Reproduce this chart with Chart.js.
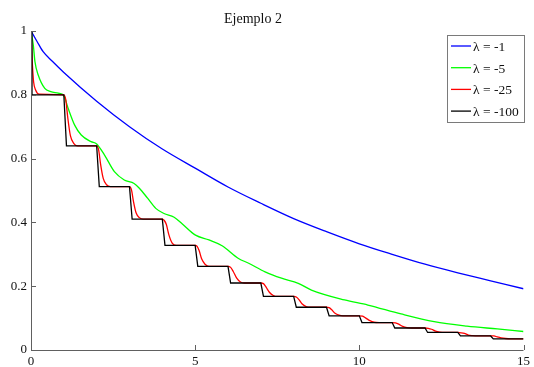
<!DOCTYPE html>
<html>
<head>
<meta charset="utf-8">
<script src="https://cdn.jsdelivr.net/npm/chart.js@4.4.0/dist/chart.umd.min.js"></script>
<style>
  html, body { margin: 0; padding: 0; background: #fff; }
</style>
</head>
<body>
<canvas id="chart" width="534" height="367"></canvas>
<script>
// Ejemplo 2: y' = lambda * (y - target), target stepping down at each integer t
const titleText = 'Ejemplo 2';
const seriesLabels = ['λ = -1', 'λ = -5', 'λ = -25', 'λ = -100'];
const seriesColors = ['#0000ff', '#00ff00', '#ff0000', '#000000'];
const xTicks = [0, 5, 10, 15];
const yTicks = [0, 0.2, 0.4, 0.6, 0.8, 1];
const yTickLabels = ['0', '0.2', '0.4', '0.6', '0.8', '1'];

// lambda = -1
const blueX = [0, 0.18, 0.37, 0.65, 1, 2, 3, 4, 5, 6, 7, 8, 9, 10, 11, 12, 13, 14, 15];
const blueY = [1.0, 0.968, 0.935, 0.905, 0.87, 0.78, 0.70, 0.63, 0.57, 0.511, 0.46, 0.412, 0.371, 0.333, 0.30, 0.269, 0.242, 0.217, 0.192];

// lambda = -5
const greenX = [0, 0.07, 0.12, 0.22, 0.42, 0.6, 0.83, 1.0, 1.13, 1.33, 1.53, 1.83, 2.0, 2.24, 2.54, 2.84, 3.14, 3.3, 3.55, 3.8,
                4.05, 4.36, 4.61, 5.01, 5.42, 5.82, 6.32, 6.63, 7.13, 7.63, 8.14, 8.54, 9.55, 10.26, 11.27, 12.28, 13.28, 14.2, 15];
const greenY = [1.0, 0.956, 0.904, 0.862, 0.82, 0.81, 0.805, 0.797, 0.758, 0.705, 0.674, 0.653, 0.646, 0.611, 0.559, 0.533, 0.522, 0.507, 0.476, 0.444,
                0.428, 0.416, 0.395, 0.36, 0.345, 0.327, 0.287, 0.272, 0.245, 0.225, 0.209, 0.188, 0.157, 0.141, 0.113, 0.089, 0.075, 0.066, 0.058];

// lambda = -25
const redX = [0, 0.04, 0.08, 0.14, 0.25,
  1.0, 1.06, 1.12, 1.2, 1.3, 1.42,
  2.0, 2.06, 2.12, 2.2, 2.3, 2.42,
  3.0, 3.06, 3.12, 3.2, 3.3, 3.42,
  4.0, 4.06, 4.12, 4.2, 4.3, 4.42,
  5.0, 5.06, 5.12, 5.2, 5.3, 5.42,
  6.0, 6.08, 6.16, 6.26, 6.38, 6.5,
  7.0, 7.08, 7.16, 7.26, 7.38, 7.5,
  8.0, 8.08, 8.16, 8.26, 8.38, 8.5,
  9.0, 9.08, 9.16, 9.26, 9.38, 9.5,
  10.0, 10.1, 10.2, 10.32, 10.45, 10.6,
  11.0, 11.1, 11.2, 11.32, 11.45, 11.6,
  12.0, 12.1, 12.2, 12.32, 12.45, 12.6,
  13.0, 13.1, 13.2, 13.32, 13.45, 13.6,
  14.0, 14.1, 14.2, 14.32, 14.45, 14.6,
  15];
const redY = [1.0, 0.9, 0.84, 0.815, 0.802,
  0.8, 0.784, 0.728, 0.672, 0.648, 0.64,
  0.64, 0.627, 0.582, 0.538, 0.518, 0.512,
  0.512, 0.502, 0.466, 0.43, 0.415, 0.41,
  0.41, 0.406, 0.394, 0.361, 0.335, 0.328,
  0.328, 0.325, 0.312, 0.285, 0.269, 0.262,
  0.262, 0.259, 0.246, 0.226, 0.213, 0.21,
  0.21, 0.208, 0.197, 0.181, 0.171, 0.168,
  0.168, 0.166, 0.158, 0.144, 0.136, 0.134,
  0.134, 0.133, 0.126, 0.115, 0.109, 0.107,
  0.107, 0.106, 0.1, 0.092, 0.087, 0.086,
  0.086, 0.085, 0.081, 0.074, 0.07, 0.069,
  0.069, 0.068, 0.065, 0.059, 0.056, 0.055,
  0.055, 0.054, 0.052, 0.047, 0.045, 0.044,
  0.044, 0.044, 0.041, 0.038, 0.036, 0.035,
  0.035];

// lambda = -100
const blackX = [0, 0.03, 1, 1.08, 2, 2.08, 3, 3.08, 4, 4.08, 5, 5.08, 6, 6.08, 7, 7.08,
                8, 8.08, 9, 9.08, 10, 10.08, 11, 11.08, 12, 12.08, 13, 13.08, 14, 14.08, 15];
const blackY = [1, 0.8, 0.8, 0.64, 0.64, 0.512, 0.512, 0.41, 0.41, 0.328, 0.328, 0.262, 0.262, 0.21, 0.21, 0.168,
                0.168, 0.134, 0.134, 0.107, 0.107, 0.086, 0.086, 0.069, 0.069, 0.055, 0.055, 0.044, 0.044, 0.035, 0.035];

const FONT = "'Liberation Serif', 'Times New Roman', serif";
const AXIS_COLOR = '#606060';

function points(xs, ys) {
  return xs.map((x, i) => ({ x: x, y: ys[i] }));
}

function makeSet(i, xs, ys, smooth) {
  return {
    label: seriesLabels[i],
    data: points(xs, ys),
    borderColor: seriesColors[i],
    backgroundColor: seriesColors[i],
    borderWidth: 1.3,
    pointRadius: 0,
    fill: false,
    tension: 0,
    cubicInterpolationMode: smooth ? 'monotone' : 'default',
    order: 4 - i   // later series are drawn on top
  };
}

// axis lines with inward tick marks, left and bottom only
const axesPlugin = {
  id: 'axesLines',
  afterDatasetsDraw(chart) {
    const ctx = chart.ctx;
    const a = chart.chartArea;
    const xs = chart.scales.x, ys = chart.scales.y;
    ctx.save();
    ctx.strokeStyle = AXIS_COLOR;
    ctx.lineWidth = 1;
    ctx.beginPath();
    ctx.moveTo(a.left + 0.5, a.top);
    ctx.lineTo(a.left + 0.5, a.bottom + 0.5);
    ctx.lineTo(a.right, a.bottom + 0.5);
    xTicks.forEach(v => {
      const px = Math.round(xs.getPixelForValue(v)) + 0.5;
      ctx.moveTo(px, a.bottom);
      ctx.lineTo(px, a.bottom - 5);
    });
    yTicks.forEach(v => {
      const py = Math.round(ys.getPixelForValue(v)) + 0.5;
      ctx.moveTo(a.left, py);
      ctx.lineTo(a.left + 5, py);
    });
    ctx.stroke();
    ctx.restore();
  }
};

// title and boxed legend in the upper right
const annotatePlugin = {
  id: 'titleLegend',
  afterDraw(chart) {
    const ctx = chart.ctx;
    ctx.save();
    ctx.fillStyle = '#111';
    ctx.font = '14px ' + FONT;
    ctx.textAlign = 'center';
    ctx.textBaseline = 'alphabetic';
    ctx.fillText(titleText, 253, 23);

    const bx = 447, by = 35, bw = 77, bh = 87;
    ctx.fillStyle = '#fff';
    ctx.fillRect(bx, by, bw, bh);
    ctx.strokeStyle = '#7a7a7a';
    ctx.lineWidth = 1;
    ctx.strokeRect(bx + 0.5, by + 0.5, bw, bh);

    ctx.font = '13.5px ' + FONT;
    ctx.textAlign = 'left';
    ctx.textBaseline = 'middle';
    chart.data.datasets.forEach((ds, i) => {
      const y = 46 + i * 21.7;
      ctx.strokeStyle = ds.borderColor;
      ctx.lineWidth = 1.3;
      ctx.beginPath();
      ctx.moveTo(451, y);
      ctx.lineTo(471, y);
      ctx.stroke();
      ctx.fillStyle = '#111';
      ctx.fillText(ds.label, 473, y + 1.5);
    });
    ctx.restore();
  }
};

new Chart(document.getElementById('chart'), {
  type: 'line',
  data: {
    datasets: [
      makeSet(0, blueX, blueY, true),
      makeSet(1, greenX, greenY, true),
      makeSet(2, redX, redY, true),
      makeSet(3, blackX, blackY, false)
    ]
  },
  options: {
    responsive: false,
    animation: false,
    devicePixelRatio: 1,
    layout: { padding: { left: 0, right: 7, top: 31, bottom: 0 } },
    plugins: {
      legend: { display: false },
      title: { display: false },
      tooltip: { enabled: false }
    },
    scales: {
      x: {
        type: 'linear',
        min: 0,
        max: 15,
        afterFit(scale) { scale.height = 17; },
        afterBuildTicks(scale) { scale.ticks = xTicks.map(v => ({ value: v })); },
        grid: { display: false, drawTicks: false },
        border: { display: false },
        ticks: {
          padding: 4,
          color: '#111',
          font: { family: FONT, size: 13 },
          maxRotation: 0,
          callback: v => String(v)
        }
      },
      y: {
        type: 'linear',
        min: 0,
        max: 1,
        afterFit(scale) { scale.width = 31; },
        afterBuildTicks(scale) { scale.ticks = yTicks.map(v => ({ value: v })); },
        grid: { display: false, drawTicks: false },
        border: { display: false },
        ticks: {
          padding: 4,
          color: '#111',
          font: { family: FONT, size: 13 },
          callback: (v, i) => yTickLabels[i]
        }
      }
    }
  },
  plugins: [axesPlugin, annotatePlugin]
});
</script>
</body>
</html>
